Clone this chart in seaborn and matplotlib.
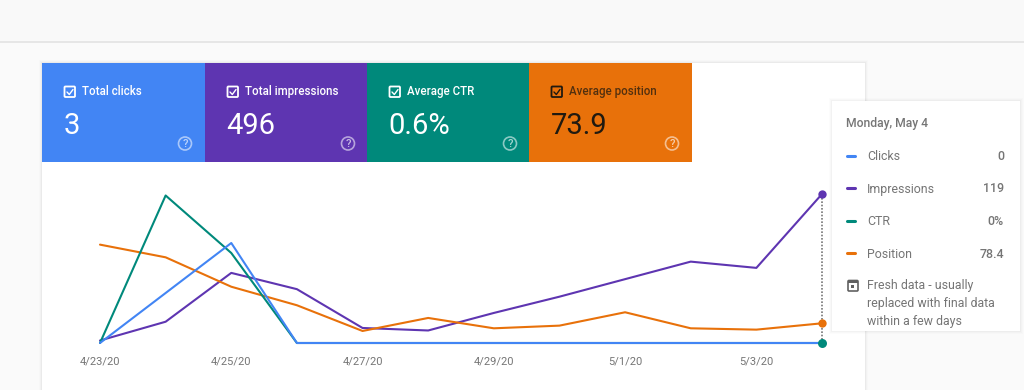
"""Search Console performance panel: metric cards, four-scale line chart, tooltip."""
import matplotlib
matplotlib.use("Agg")
import matplotlib.pyplot as plt
import pandas as pd
import seaborn as sns
from matplotlib.patches import Circle, FancyBboxPatch, Rectangle

W, H = 1024, 390

DATES = ["2020-04-23", "2020-04-24", "2020-04-25", "2020-04-26", "2020-04-27", "2020-04-28",
         "2020-04-29", "2020-04-30", "2020-05-01", "2020-05-02", "2020-05-03", "2020-05-04"]
CLICKS = [0, 1, 2, 0, 0, 0, 0, 0, 0, 0, 0, 0]
IMPRESSIONS = [2, 17, 56, 43, 12, 10, 24, 37, 51, 65, 60, 119]
CTR = [0, 5.9, 3.6, 0, 0, 0, 0, 0, 0, 0, 0, 0]
POSITION = [31.3, 38.9, 56.5, 67.6, 83.0, 75.2, 81.4, 79.8, 71.8, 81.4, 82.2, 78.4]

TICK_DATES = ["2020-04-23", "2020-04-25", "2020-04-27", "2020-04-29", "2020-05-01", "2020-05-03"]
TICK_LABELS = ["4/23/20", "4/25/20", "4/27/20", "4/29/20", "5/1/20", "5/3/20"]

CARD_TITLES = ["Total clicks", "Total impressions", "Average CTR", "Average position"]
CARD_VALUES = ["3", "496", "0.6%", "73.9"]
TIP_NAMES = ["Clicks", "Impressions", "CTR", "Position"]
TIP_VALUES = ["0", "119", "0%", "78.4"]

BLUE, PURPLE, TEAL, ORANGE = "#4285f4", "#5e35b1", "#00897b", "#e8710a"
TEXT = "#757575"

sns.set_theme(style="white")
plt.rcParams["font.family"] = ["Roboto", "DejaVu Sans"]

fig = plt.figure(figsize=(W / 100, H / 100), dpi=100, facecolor="#fafafa")


def px_axes(left, top, right, bottom, z):
    return fig.add_axes([left / W, 1 - bottom / H, (right - left) / W, (bottom - top) / H], zorder=z)


# ─── page chrome (pixel coordinates) ─────────────────────────────────────────

bg = px_axes(0, 0, W, H, 0)
bg.set_xlim(0, W); bg.set_ylim(H, 0); bg.set_axis_off()
bg.add_patch(Rectangle((0, 0), W, 41, color="#f9f9f9", lw=0))
bg.plot([0, W], [41.5, 41.5], color="#e0e0e0", lw=1.1)
for grow, alpha in [(3, 0.012), (2, 0.018), (1, 0.03)]:
    bg.add_patch(Rectangle((42 - grow, 63 - grow), 823 + 2 * grow, 340, color="black", alpha=alpha, lw=0))
bg.add_patch(Rectangle((42, 63), 823, 340, color="white", lw=0))

card_x = [42, 205, 367, 529, 692]
card_colors = [BLUE, PURPLE, TEAL, ORANGE]
for i, (title, value, col) in enumerate(zip(CARD_TITLES, CARD_VALUES, card_colors)):
    x0, x1 = card_x[i], card_x[i + 1]
    bg.add_patch(Rectangle((x0, 63), x1 - x0, 99, color=col, lw=0))
    fg = "#201a10" if col == ORANGE else "white"
    bg.add_patch(FancyBboxPatch((x0 + 22.5, 86.5), 10.5, 10.5, boxstyle="round,pad=0,rounding_size=1",
                                fc="none", ec=fg, lw=1.3))
    bg.plot([x0 + 25, x0 + 27.3, x0 + 31], [92, 94.5, 89.5], color=fg, lw=1.0)
    bg.text(x0 + 40, 91.5, title, color=fg, fontsize=8.3, fontweight="medium", va="center", ha="left",
            alpha=0.75 if col == ORANGE else 1)
    bg.text(x0 + 21.5, 125.5, value, color=fg, fontsize=21, va="center", ha="left")
    bg.add_patch(Circle((x0 + 143, 143.5), 6.5, fc="none", ec="white", lw=1.2, alpha=0.55))
    bg.text(x0 + 143, 143.8, "?", color="white", alpha=0.65, fontsize=8, fontweight="medium",
            ha="center", va="center")

# ─── chart: every metric has its own y scale, position runs downwards ────────

df = pd.DataFrame({"date": pd.to_datetime(DATES), "clicks": CLICKS, "impressions": IMPRESSIONS,
                   "ctr": CTR, "position": POSITION})
tick_pos = pd.to_datetime(TICK_DATES)
first, last = df["date"].iloc[0], df["date"].iloc[-1]

ax_imp = px_axes(100, 180, 822, 343, 2)
ax_imp.patch.set_alpha(0)
axes = [ax_imp, ax_imp.twinx(), ax_imp.twinx(), ax_imp.twinx()]
series = [("impressions", PURPLE, (0, 130.2)), ("position", ORANGE, (90.2, -7.4)),
          ("ctr", TEAL, (0, 6.52)), ("clicks", BLUE, (0, 3.26))]

ax_imp.plot([last, last], [0, 119], color="#777777", lw=1.2, ls=(0, (1, 1)), zorder=1, clip_on=False)
for ax, (col, color, ylim) in zip(axes, series):
    sns.lineplot(data=df, x="date", y=col, color=color, lw=1.5, ax=ax, clip_on=False, errorbar=None)
    ax.set_ylim(*ylim)
    ax.set_yticks([])
    ax.set_xlabel(""); ax.set_ylabel("")
    ax.patch.set_alpha(0)
    sns.despine(ax=ax, left=True, bottom=True, right=True, top=True)

ax_imp.scatter([last], [IMPRESSIONS[-1]], s=36, color=PURPLE, zorder=5, clip_on=False, linewidths=0)
axes[1].scatter([last], [POSITION[-1]], s=36, color=ORANGE, zorder=5, clip_on=False, linewidths=0)
# teal dot sits over the blue line, so it goes on the top axes
axes[3].scatter([last], [CLICKS[-1]], s=42, color=TEAL, zorder=5, clip_on=False, linewidths=0)

ax_imp.set_xlim(first, last)
ax_imp.set_xticks(tick_pos)
ax_imp.set_xticklabels(TICK_LABELS, color=TEXT, fontsize=8)
ax_imp.tick_params(axis="x", length=0, pad=10)
for ax in axes[1:]:
    ax.tick_params(axis="x", length=0, labelbottom=False)

# ─── tooltip ─────────────────────────────────────────────────────────────────

tip = px_axes(0, 0, W, H, 5)
tip.set_xlim(0, W); tip.set_ylim(H, 0); tip.set_axis_off(); tip.patch.set_alpha(0)
for grow, alpha in [(3, 0.01), (2, 0.015), (1, 0.025)]:
    tip.add_patch(Rectangle((832 - grow, 101 - grow), 188 + 2 * grow, 230 + 2 * grow,
                            color="black", alpha=alpha, lw=0))
tip.add_patch(Rectangle((832, 101), 188, 230, color="white", lw=0))
tip.text(846, 124, "Monday, May 4", color=TEXT, fontsize=8.7, fontweight="medium", va="center")
for y, name, value, col in zip([156.5, 189, 221.5, 254], TIP_NAMES, TIP_VALUES, card_colors):
    tip.plot([847, 855], [y - 1, y - 1], color=col, lw=2.2, solid_capstyle="round")
    tip.text(867, y, name, color=TEXT, fontsize=8.9, va="center")
    tip.text(1004, y, value, color=TEXT, fontsize=8.9, fontweight="medium", va="center", ha="right")
tip.add_patch(FancyBboxPatch((848, 280.5), 10, 10.5, boxstyle="round,pad=0,rounding_size=1",
                             fc="none", ec="#616161", lw=1.2))
tip.add_patch(Rectangle((848, 280.5), 10, 2.5, color="#616161", lw=0))
tip.add_patch(Rectangle((850.5, 285), 3, 3, color="#616161", lw=0))
for y, line in zip([286, 304, 322], ["Fresh data - usually", "replaced with final data", "within a few days"]):
    tip.text(867, y, line, color=TEXT, fontsize=8.9, va="center")

fig.savefig("out.png", dpi=100, facecolor=fig.get_facecolor())
